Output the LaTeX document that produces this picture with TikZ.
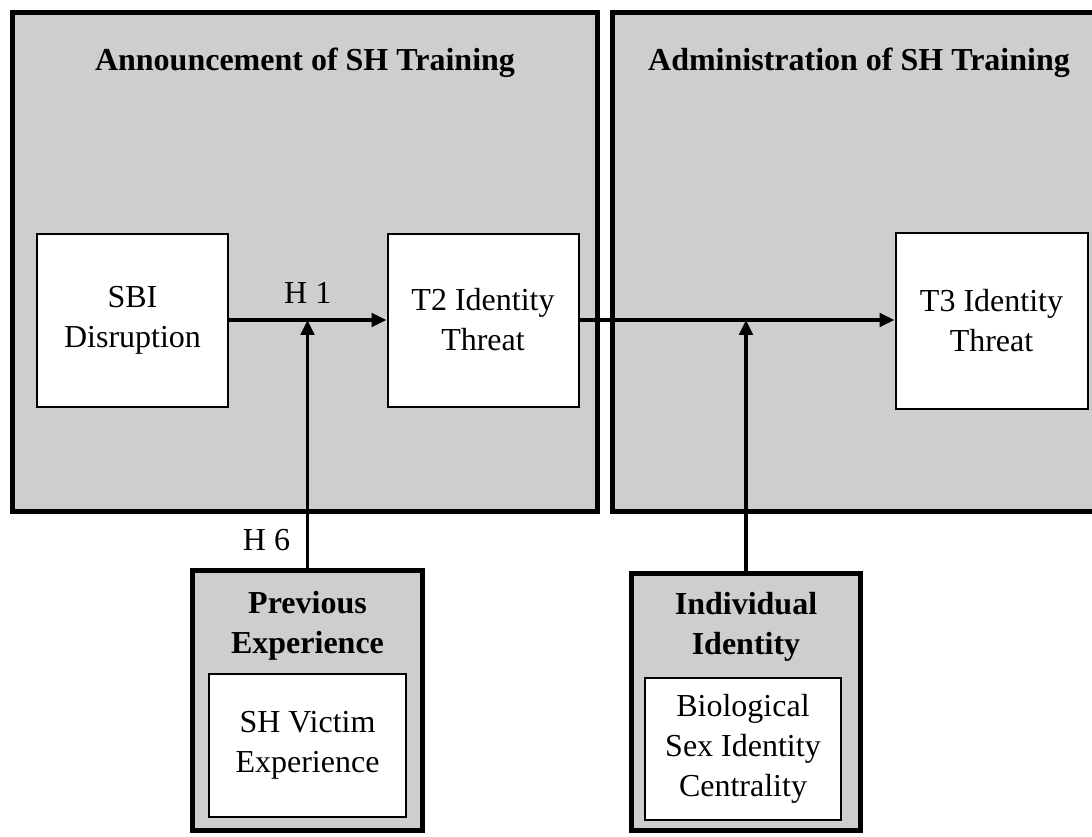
\documentclass[tikz,border=0pt]{standalone}
\usepackage{fontspec}
\setmainfont{Liberation Serif}
\usetikzlibrary{arrows.meta, positioning}
\definecolor{panelgray}{RGB}{207,205,208}
\tikzstyle{panel}=[draw, line width=2.2pt, fill=panelgray, rectangle, inner sep=0pt]
\tikzstyle{varbox}=[draw, line width=0.75pt, fill=white, rectangle, inner sep=0pt, align=center]
\tikzstyle{heading}=[font=\fontsize{12pt}{15pt}\selectfont\bfseries, align=center, inner sep=0pt]
\tikzstyle{path}=[line width=1.4pt, -{Triangle[length=5.6pt, width=5pt]}]

\begin{document}
\begin{tikzpicture}[x=0.375pt, y=-0.375pt, font=\fontsize{12pt}{15pt}\selectfont]
    \useasboundingbox (0,0) rectangle (1092,836);
    % time panels
    \node[panel, minimum width=219.375pt, minimum height=187.125pt] (announce) at (305,262) {};
    \node[panel, minimum width=183.56pt, minimum height=187.125pt] (admin) at (857.25,262) {};
    \node[heading, anchor=base] (announcetitle) at (305,70) {Announcement of SH Training};
    \node[heading, anchor=base] (admintitle) at (859,70) {Administration of SH Training};
    % variables
    \node[varbox, minimum width=71.625pt, minimum height=64.875pt] (sbi) at (132.5,320) {SBI\\Disruption};
    \node[varbox, minimum width=71.625pt, minimum height=64.875pt] (tii) at (483,320) {T2 Identity\\Threat};
    \node[varbox, minimum width=72pt, minimum height=66pt] (tiii) at (991.5,321) {T3 Identity\\Threat};
    % moderators
    \node[panel, minimum width=86.25pt, minimum height=97.5pt] (prev) at (307.5,700.5) {};
    \node[heading] (prevtitle) at (307.5,626) {Previous\\Experience};
    \node[varbox, minimum width=73.875pt, minimum height=53.625pt] (victim) at (307.5,745.5) {SH Victim\\Experience};
    \node[panel, minimum width=85.875pt, minimum height=96.375pt] (indiv) at (746,702) {};
    \node[heading] (indivtitle) at (746,627) {Individual\\Identity};
    \node[varbox, minimum width=73.5pt, minimum height=53.25pt] (sexid) at (743,749) {Biological\\Sex Identity\\Centrality};
    % paths
    \draw[path] (sbi) -- node[midway, above=2pt] {H 1} (tii);
    \draw[path] (tii.east) -- (tii.east -| tiii.west);
    \draw[path] (prev.north) -- node[pos=.11, left=2.5pt] {H 6} (prev.north |- sbi.east);
    \draw[path] (indiv.north) -- (indiv.north |- tii.east);
\end{tikzpicture}
\end{document}
